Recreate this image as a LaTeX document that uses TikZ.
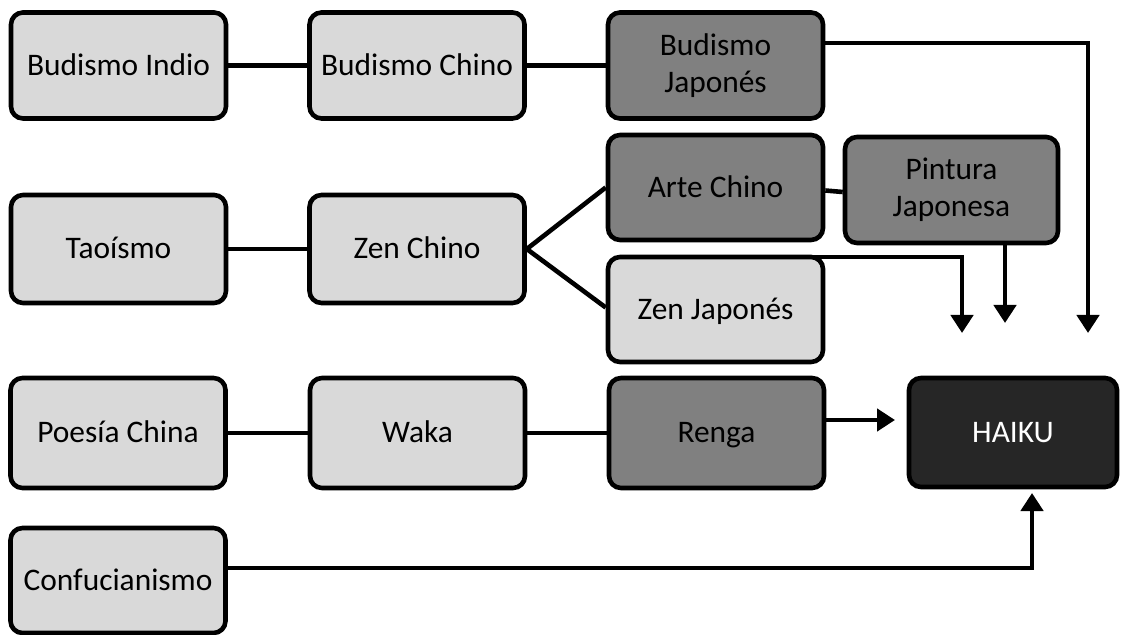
\documentclass[tikz,border=0pt]{standalone}
\usepackage{fontspec}
\setmainfont{Carlito}
\usetikzlibrary{arrows.meta,calc}
\definecolor{lightbox}{HTML}{D9D9D9}
\definecolor{midbox}{HTML}{808080}
\definecolor{darkbox}{HTML}{262626}
\tikzset{
  box/.style={draw=black, line width=2.3pt, rounded corners=6pt, minimum width=107.5pt, minimum height=53pt, align=center, inner sep=2pt, font=\fontsize{15.7}{18.5}\selectfont},
  oneline/.style={text height=12.8pt, text depth=2.9pt},
  lbox/.style={box, fill=lightbox},
  mbox/.style={box, fill=midbox},
  dbox/.style={box, fill=darkbox, text=white},
  conn/.style={line width=2.3pt},
  arr/.style={line width=2.3pt, -{Triangle[width=11pt,length=9pt]}}
}
\begin{document}
\begin{tikzpicture}[x=0.5pt,y=-0.5pt]
\useasboundingbox (0,0) rectangle (1122,635);
% row 1
\node[lbox, oneline] (bi) at (118.5,65.5) {Budismo Indio};
\node[lbox, oneline] (bc) at (417,65.5) {Budismo Chino};
\node[mbox] (bj) at (715.5,65.5) {Budismo\\Japonés};
% row 2
\node[lbox, oneline, minimum height=54pt] (ta) at (118.5,249) {Taoísmo};
\node[lbox, oneline, minimum height=54pt] (zc) at (417,249) {Zen Chino};
\node[mbox, oneline, minimum height=52.5pt] (ac) at (715.5,187.5) {Arte Chino};
\node[mbox, minimum width=106.5pt] (pj) at (951.5,190) {Pintura\\Japonesa};
\node[lbox, oneline, minimum height=52.5pt] (zj) at (715.5,309.5) {Zen Japonés};
% row 3
\node[lbox, oneline, minimum height=55pt] (pc) at (118,433) {Poesía China};
\node[lbox, oneline, minimum height=55pt] (wk) at (417.5,433) {Waka};
\node[mbox, oneline, minimum height=55pt] (rg) at (716.5,433) {Renga};
\node[dbox, oneline, minimum width=104pt, minimum height=54.5pt] (hk) at (1013,432.5) {HAIKU};
% row 4
\node[lbox, oneline, minimum height=52.5pt] (cf) at (118,580.5) {Confucianismo};
% coordinates
\coordinate (bjt) at (1088,333);
\coordinate (pjt) at (1005,323);
\coordinate (zjs) at (775,257);
\coordinate (zjt) at (962,333);
\coordinate (rgt) at (895,420);
\coordinate (cft) at (1032,493);
% plain connectors
\draw[conn] (bi) -- (bc);
\draw[conn] (bc) -- (bj);
\draw[conn] (ta) -- (zc);
\draw[conn] (zc.east) -- (ac.west);
\draw[conn] (zc.east) -- ([yshift=1pt]zj.west);
\draw[conn] ([yshift=-1.5pt]ac.east) -- ([yshift=-1pt]pj.west);
\draw[conn] (pc) -- (wk);
\draw[conn] (wk) -- (rg);
% arrows
\draw[arr] (bj.east |- 0,43) -| (bjt);
\draw[arr] (pj.south -| pjt) -- (pjt);
\draw[arr] (zjs) -| (zjt);
\draw[arr] (rg.east |- rgt) -- (rgt);
\draw[arr] (cf.east |- 0,568) -| (cft);
\end{tikzpicture}
\end{document}
